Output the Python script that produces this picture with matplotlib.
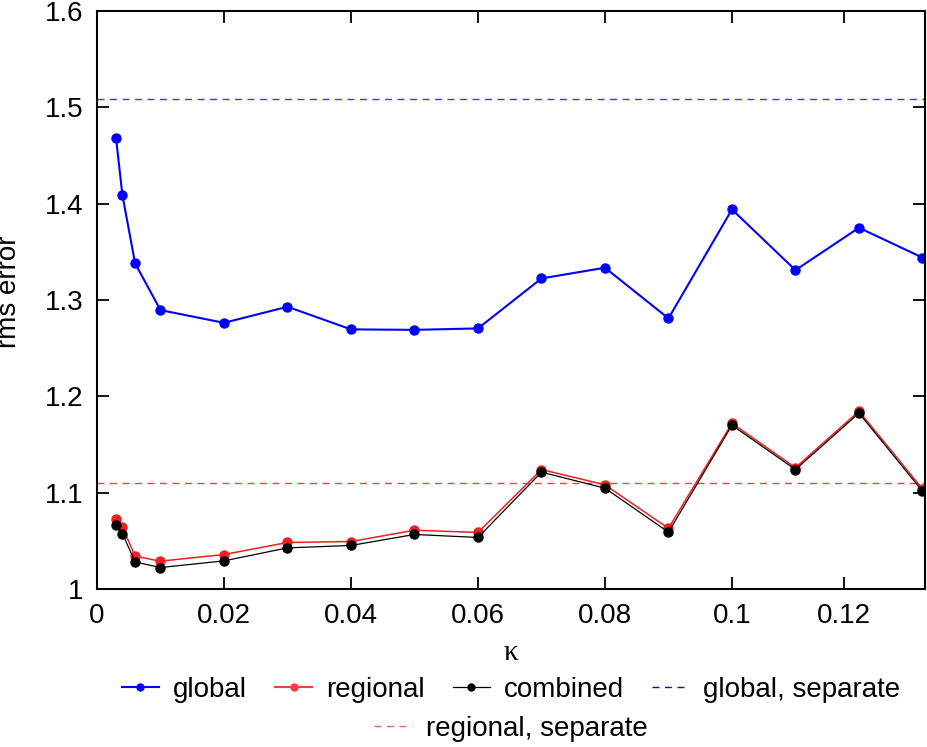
import matplotlib
matplotlib.use("Agg")
import matplotlib.pyplot as plt
from matplotlib.lines import Line2D

plt.rcParams['font.family'] = ['Liberation Sans', 'DejaVu Sans']

# kappa values
kappa = [0.003, 0.004, 0.006, 0.01, 0.02, 0.03, 0.04, 0.05, 0.06,
         0.07, 0.08, 0.09, 0.1, 0.11, 0.12, 0.13]

# rms error per method
global_err = [1.468, 1.409, 1.338, 1.2895, 1.2763, 1.293, 1.2695, 1.269, 1.2705,
              1.3224, 1.3335, 1.2809, 1.394, 1.331, 1.375, 1.344]
regional_err = [1.0725, 1.0645, 1.034, 1.0289, 1.0358, 1.0483, 1.0493, 1.061, 1.0587,
                1.124, 1.1081, 1.063, 1.172, 1.126, 1.1846, 1.104]
combined_err = [1.0663, 1.0576, 1.028, 1.0223, 1.0292, 1.0427, 1.0452, 1.0566, 1.0535,
                1.1213, 1.1047, 1.059, 1.170, 1.124, 1.1826, 1.1016]

# separate-run reference levels
global_separate = 1.5086
regional_separate = 1.1096

xticks = [0, 0.02, 0.04, 0.06, 0.08, 0.1, 0.1177]
xtick_labels = ['0', '0.02', '0.04', '0.06', '0.08', '0.1', '0.12']
yticks = [1.0, 1.1, 1.2, 1.3, 1.4, 1.5, 1.6]
ytick_labels = ['1', '1.1', '1.2', '1.3', '1.4', '1.5', '1.6']

fig = plt.figure(figsize=(9.28, 7.47), dpi=100)
ax = fig.add_axes([97 / 928, 1 - 589 / 747, 828 / 928, 578 / 747])

ax.axhline(global_separate, color='#3a3aff', lw=1.0, ls=(0, (5, 4)))
ax.axhline(regional_separate, color='#e04848', lw=1.0, ls=(0, (5, 4)))

ax.plot(kappa, global_err, color='#0000ff', lw=1.5, marker='o', ms=6.5)
ax.plot(kappa, regional_err, color='#ee2020', lw=1.1, marker='o', ms=6.5)
ax.plot(kappa, combined_err, color='black', lw=0.9, marker='o', ms=6.5)

ax.set_xlim(0, 0.1304)
ax.set_ylim(1.0, 1.6)
ax.set_xticks(xticks)
ax.set_xticklabels(xtick_labels)
ax.set_yticks(yticks)
ax.set_yticklabels(ytick_labels)
ax.tick_params(direction='in', length=8.6, width=1.3, labelsize=20,
               top=True, right=True, pad=10)
for s in ax.spines.values():
    s.set_linewidth(1.5)

# axis labels placed in figure pixels (the y label is clipped at the left edge, as in the source)
fig.text(511 / 928, 1 - 653 / 747, 'κ', family=['Liberation Serif', 'DejaVu Serif'],
         fontsize=21, ha='center', va='center')
fig.text(16 / 928, 1 - 292 / 747, 'rms error', fontsize=20, rotation=90,
         rotation_mode='anchor', ha='center', va='baseline')

h1 = [
    Line2D([], [], color='#0000ff', lw=1.5, marker='o', ms=5),
    Line2D([], [], color='#ee4040', lw=1.5, marker='o', ms=5),
    Line2D([], [], color='black', lw=0.9, marker='o', ms=5),
    Line2D([], [], color='#0000ff', lw=1.0, ls=(0, (5, 4))),
]
l1 = ax.legend(h1, ['global', 'regional', 'combined', 'global, separate'],
               loc='center', bbox_to_anchor=(0.5, -0.175), ncol=4, frameon=False,
               fontsize=20, handlelength=1.35, handletextpad=0.5, columnspacing=1.0,
               borderpad=0, borderaxespad=0)
ax.add_artist(l1)
h2 = [Line2D([], [], color='#f06060', lw=1.0, ls=(0, (5, 4)))]
ax.legend(h2, ['regional, separate'], loc='center', bbox_to_anchor=(0.5, -0.242),
          frameon=False, fontsize=20, handlelength=1.35, handletextpad=0.5,
          borderpad=0, borderaxespad=0)

fig.savefig('out.png', dpi=100)
